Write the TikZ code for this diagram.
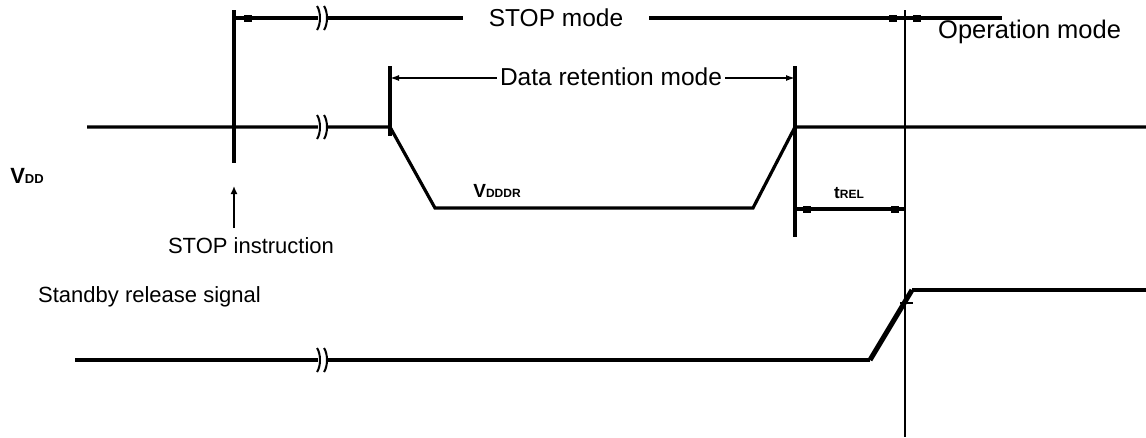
\documentclass[tikz,border=0pt]{standalone}
\usepackage{fontspec}
\setmainfont{Liberation Sans}
\usetikzlibrary{arrows.meta}
\begin{document}
\begin{tikzpicture}[x=1pt,y=-1pt,
  sig/.style={line width=3.2pt},
  thinln/.style={line width=1.5pt},
  bigtxt/.style={font=\fontsize{24.5}{28}\selectfont, inner sep=0pt},
  smtxt/.style={font=\fontsize{22}{26}\selectfont, inner sep=0pt},
  gaptxt/.style={fill=white, inner ysep=4pt},
  mk/.style={fill=black, minimum width=8pt, minimum height=7pt, inner sep=0pt},
  symb/.style={font=\bfseries, inner sep=0pt},
  brk/.pic={
    \fill[white] (-4,-13) rectangle (4,13);
    \draw[line width=2pt] (-5,-12) .. controls (-1,-6) and (-1,6) .. (-5,12);
    \draw[line width=2pt] (2,-12) .. controls (6,-6) and (6,6) .. (2,12);
  }]
\useasboundingbox (0,0) rectangle (1146,437);

% coordinates
\coordinate (aT) at (234,10);
\coordinate (aB) at (234,163);
\coordinate (topL) at (234,18);
\coordinate (topR) at (1002,18);
\coordinate (opT) at (905,10);
\coordinate (opB) at (905,437);
\coordinate (drLT) at (390,66);
\coordinate (drLB) at (390,136);
\coordinate (drRT) at (795,66);
\coordinate (drRB) at (795,237);
\coordinate (drL) at (390,78);
\coordinate (drR) at (795,78);
\coordinate (v0) at (87,127);
\coordinate (v1) at (390,127);
\coordinate (v2) at (435,208);
\coordinate (v3) at (753,208);
\coordinate (v4) at (795,127);
\coordinate (v5) at (1146,127);
\coordinate (trL) at (795,209);
\coordinate (trR) at (905,209);
\coordinate (siB) at (234,228);
\coordinate (siT) at (234,186);
\coordinate (s0) at (75,360);
\coordinate (s1) at (870,360);
\coordinate (s2) at (912,290);
\coordinate (s3) at (1146,290);
\coordinate (tkL) at (900,303);
\coordinate (tkR) at (913,303);

% vertical references
\draw[sig] (aT) -- (aB);
\draw[thinln] (opT) -- (opB);
\draw[sig] (drLT) -- (drLB);
\draw[sig] (drRT) -- (drRB);

% STOP mode / operation mode line
\draw[sig] (topL) -- (topR);
\node[bigtxt,gaptxt,inner xsep=26pt] (stopmode) at (556,18) {STOP mode};
\node[mk] (m1) at (248,18) {};
\node[mk] (m2) at (893,18) {};
\node[mk] (m3) at (917,18) {};
\node[bigtxt,anchor=west,font=\fontsize{25.5}{28}\selectfont] (opmode) at (938,32) {Operation mode};
\pic at (322,18) {brk};

% Data retention mode
\draw[thinln,{Latex[length=9pt,width=6pt]}-{Latex[length=9pt,width=6pt]}] (drL) -- (drR);
\node[bigtxt,gaptxt,inner xsep=3pt] (drtxt) at (611,77) {Data retention mode};

% VDD waveform
\draw[sig,line join=miter] (v0) -- (v1) -- (v2) -- (v3) -- (v4) -- (v5);
\pic at (322,127) {brk};
\node[symb] (vdd) at (27,176) {\fontsize{22}{24}\selectfont V\fontsize{13}{14}\selectfont DD};
\node[symb] (vdddr) at (497,191) {\fontsize{19}{22}\selectfont V\fontsize{12}{14}\selectfont DDDR};

% tREL
\draw[sig] (trL) -- (trR);
\node[mk] (m4) at (807,209) {};
\node[mk] (m5) at (895,209) {};
\node[symb] (trel) at (849,193) {\fontsize{17}{20}\selectfont t\fontsize{12}{14}\selectfont REL};

% STOP instruction
\draw[thinln,-{Latex[length=8pt,width=7pt]}] (siB) -- (siT);
\node[smtxt] (stopins) at (251,246) {STOP instruction};

% Standby release signal
\node[smtxt,anchor=west] (sbtxt) at (38,297) {Standby release signal};
\draw[sig] (s0) -- (s1);
\draw[line width=5pt] (s1) -- (s2);
\draw[sig] (s2) -- (s3);
\draw[thinln] (tkL) -- (tkR);
\pic at (322,360) {brk};
\end{tikzpicture}
\end{document}
